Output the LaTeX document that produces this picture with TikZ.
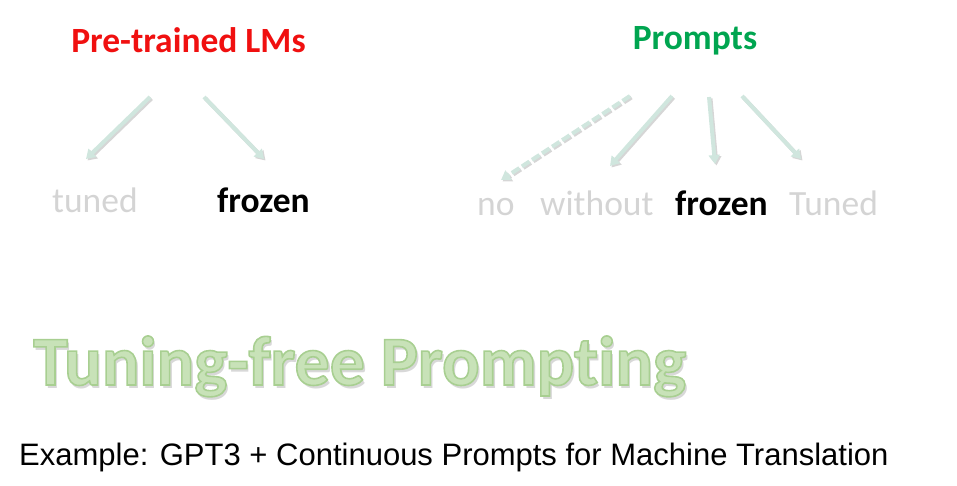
\documentclass[tikz,border=0pt]{standalone}
\usepackage{fontspec}
\setmainfont{Carlito}[Ligatures=NoCommon]
\newfontfamily\arialf{Liberation Sans}
\usetikzlibrary{arrows.meta}
\definecolor{hdred}{HTML}{F01010}
\definecolor{hdgreen}{HTML}{00A550}
\definecolor{lightgrey}{HTML}{D4D4D4}
\definecolor{arrowmint}{HTML}{D0E6DE}
\definecolor{arrowshadow}{HTML}{D6D6D6}
\definecolor{tfill}{HTML}{C8E2B8}
\definecolor{tshadow}{HTML}{D8D8D8}
\newcommand{\outlinedtext}[1]{\special{pdf:literal direct 2 Tr 1.6 w 0.66 0.81 0.57 RG}#1\special{pdf:literal direct 0 Tr}}
\tikzset{
  lbl/.style={anchor=base west, inner sep=0pt, font=\fontsize{35.5}{40}\selectfont},
  hdr/.style={anchor=base, inner sep=0pt, font=\fontsize{35.5}{40}\selectfont\bfseries},
  arr/.style={line width=4pt, draw=arrowmint, -{Triangle[width=11pt,length=9pt]}},
  arrsh/.style={line width=4pt, draw=arrowshadow, -{Triangle[width=11pt,length=9pt]}},
  dsh/.style={dash pattern=on 9pt off 3pt},
  big/.style={anchor=base west, inner sep=0pt, font=\fontsize{70}{80}\selectfont\bfseries}
}
\begin{document}
\begin{tikzpicture}[x=1pt,y=-1pt]
\useasboundingbox (0,0) rectangle (957,486);
% headers
\node[hdr, text=hdred] (plm) at (188.5,53) {Pre-trained LMs};
\node[hdr, text=hdgreen] (pr) at (695,50) {Prompts};
% labels
\node[lbl, text=lightgrey] (tuned) at (52,213) {tuned};
\node[lbl, text=black, font=\fontsize{35.5}{40}\selectfont\bfseries] (frz1) at (217,212) {frozen};
\node[lbl, text=lightgrey] (no) at (477,215) {no};
\node[lbl, text=lightgrey] (without) at (540,215) {without};
\node[lbl, text=black, font=\fontsize{35.5}{40}\selectfont\bfseries] (frz2) at (675,215) {frozen};
\node[lbl, text=lightgrey] (Tuned) at (789,215) {Tuned};
% arrow endpoints
\coordinate (a1s) at (150,97);  \coordinate (a1e) at (86,159);
\coordinate (a2s) at (204,97);  \coordinate (a2e) at (264,159);
\coordinate (b1s) at (630,96);  \coordinate (b1e) at (501,180);
\coordinate (b2s) at (672,96);  \coordinate (b2e) at (610,166);
\coordinate (b3s) at (709,97);  \coordinate (b3e) at (715,164);
\coordinate (b4s) at (742,96);  \coordinate (b4e) at (801,159);
% shadows
\foreach \s/\e in {a1s/a1e,a2s/a2e,b2s/b2e,b3s/b3e,b4s/b4e}{
  \draw[arrsh] ([shift={(1.5,1.5)}]\s) -- ([shift={(1.5,1.5)}]\e);
}
\draw[arrsh,dsh] ([shift={(1.5,1.5)}]b1s) -- ([shift={(1.5,1.5)}]b1e);
% arrows
\draw[arr] (a1s) -- (a1e);
\draw[arr] (a2s) -- (a2e);
\draw[arr,dsh] (b1s) -- (b1e);
\draw[arr] (b2s) -- (b2e);
\draw[arr] (b3s) -- (b3e);
\draw[arr] (b4s) -- (b4e);
% big title with shadow and outline
\node[big, text=tshadow] (tfs) at (35.5,388) {Tuning-free Prompting};
\node[big, text=tfill] (tf) at (33,385) {\outlinedtext{Tuning-free Prompting}};
% example line
\node[anchor=base west, inner sep=0pt, font=\arialf\fontsize{31}{36}\selectfont] (ex) at (19,465) {Example: GPT3 + Continuous Prompts for Machine Translation};
\end{tikzpicture}
\end{document}
